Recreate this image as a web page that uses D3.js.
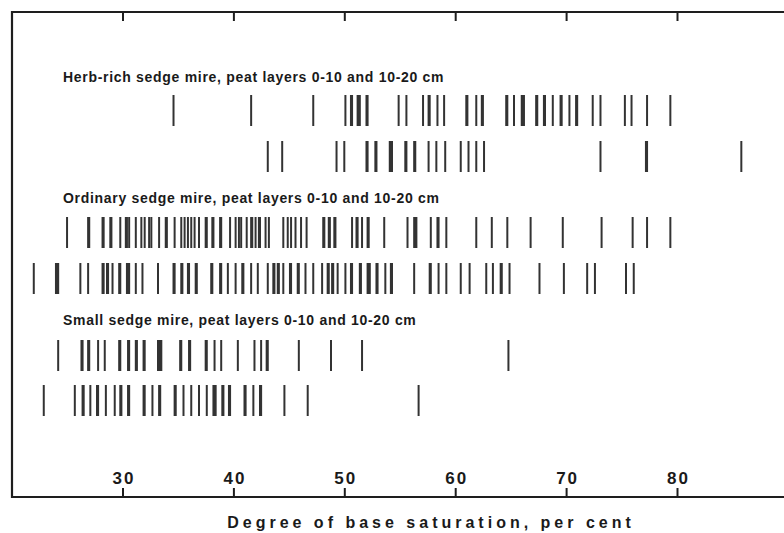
<!DOCTYPE html>
<html>
<head>
<meta charset="utf-8">
<script src="https://cdn.jsdelivr.net/npm/d3@7"></script>
<style>
  html, body { margin: 0; padding: 0; background: #fff; }
  svg { display: block; }
  text { font-family: "Liberation Sans", Arial, sans-serif; font-weight: bold; fill: #1a1a1a; }
</style>
</head>
<body>
<svg id="chart" width="784" height="533"></svg>
<script>
// Degree of base saturation (per cent) of individual peat samples.
// Closely spaced values show up as heavier bars.
const herbRich0_10 = [34.6, 41.6, 47.2, 50.1, 50.6, 50.7, 51.2, 51.3, 51.4, 52.0, 52.1, 54.9, 55.6,
  57.1, 57.6, 57.7, 58.4, 59.0, 61.0, 61.1, 61.9, 62.4, 62.5, 64.6, 64.7, 65.3, 66.0, 66.1, 66.2,
  67.3, 67.4, 68.0, 68.1, 68.8, 69.5, 69.6, 70.3, 70.9, 71.0, 72.4, 73.1, 75.3, 75.9, 77.3, 79.4];
const herbRich10_20 = [43.1, 44.4, 49.3, 50.0, 52.0, 52.1, 52.8, 52.9, 54.1, 54.2, 54.3, 55.5, 55.6,
  56.3, 56.4, 57.6, 58.3, 59.1, 60.5, 61.2, 61.9, 62.6, 73.1, 77.2, 77.3, 85.8];
const ordinary0_10 = [25.0, 26.9, 27.0, 28.2, 28.3, 28.9, 29.0, 29.8, 30.3, 30.4, 30.6, 31.2, 31.7,
  32.0, 32.4, 32.6, 33.3, 33.9, 34.0, 34.7, 35.3, 35.6, 35.9, 36.2, 36.5, 36.9, 37.5, 37.6, 38.1,
  38.2, 38.8, 38.9, 39.7, 40.2, 40.5, 40.7, 41.2, 41.6, 41.7, 42.0, 42.3, 42.4, 42.9, 43.2, 44.5,
  44.9, 45.2, 45.6, 46.1, 46.6, 48.1, 48.2, 48.6, 48.7, 49.1, 49.2, 50.7, 51.1, 51.2, 51.6, 52.1,
  52.2, 53.6, 55.7, 56.3, 56.4, 56.5, 57.8, 58.4, 58.5, 59.2, 61.9, 63.3, 64.7, 66.8, 69.7, 73.2,
  76.0, 77.3, 79.4];
const ordinary10_20 = [22.0, 24.0, 24.1, 24.2, 26.2, 26.9, 28.2, 28.3, 28.6, 28.7, 29.1, 29.7, 29.8,
  30.4, 30.5, 30.6, 31.2, 31.8, 33.2, 34.6, 34.7, 35.3, 35.4, 35.9, 36.0, 36.6, 36.7, 38.0, 38.1,
  38.8, 38.9, 39.5, 40.2, 40.8, 40.9, 41.6, 42.2, 43.1, 43.6, 43.7, 44.0, 44.1, 44.5, 45.1, 45.2,
  45.8, 45.9, 46.5, 47.2, 48.0, 48.5, 48.6, 48.9, 49.0, 49.4, 50.1, 50.6, 50.7, 51.4, 51.5, 52.1,
  52.2, 52.3, 52.9, 53.0, 53.7, 54.2, 54.3, 56.3, 57.7, 57.8, 58.5, 59.2, 60.5, 61.3, 62.8, 63.4,
  64.1, 64.2, 64.9, 67.6, 69.8, 71.9, 72.6, 75.4, 76.1];
const small0_10 = [24.2, 26.3, 26.4, 26.9, 27.0, 27.8, 28.4, 29.7, 29.8, 30.5, 30.6, 31.2, 31.3,
  31.9, 32.0, 33.2, 33.3, 33.4, 33.5, 35.2, 35.3, 36.0, 36.1, 37.5, 37.6, 38.3, 38.9, 40.4, 41.9,
  42.5, 43.0, 43.1, 45.9, 48.8, 51.6, 64.8];
const small10_20 = [22.9, 25.7, 26.4, 26.5, 27.1, 27.7, 27.8, 28.5, 29.3, 29.8, 29.9, 30.5, 30.6,
  31.9, 32.0, 32.7, 33.3, 33.4, 34.7, 34.8, 35.5, 36.2, 36.9, 37.6, 38.2, 38.3, 38.4, 39.0, 39.1,
  39.6, 39.7, 41.0, 41.1, 41.8, 42.4, 42.5, 44.6, 46.7, 56.7];

const groupTitles = [
  "Herb-rich sedge mire, peat layers 0-10 and 10-20 cm",
  "Ordinary sedge mire, peat layers 0-10 and 10-20 cm",
  "Small sedge mire, peat layers 0-10 and 10-20 cm"
];
const rowSeries = [herbRich0_10, herbRich10_20, ordinary0_10, ordinary10_20, small0_10, small10_20];
const tickValues = [30, 40, 50, 60, 70, 80];
const axisTitle = "Degree of base saturation, per cent";

const svg = d3.select("#chart");
const frame = { left: 12, top: 12, right: 792, bottom: 497 };

const x = d3.scaleLinear().domain([30, 80]).range([122.5, 677]);

// vertical band of each row of strokes
const rowTop = [95, 141, 217, 263, 340, 385];
const rowHeight = 31;

// frame
svg.append("path")
  .attr("d", `M${frame.right},${frame.top}H${frame.left}V${frame.bottom}H${frame.right}`)
  .attr("fill", "none")
  .attr("stroke", "#1e1e1e")
  .attr("stroke-width", 2.2);

// ticks hanging from the top edge
const topAxis = svg.append("g")
  .attr("transform", `translate(0,${frame.top})`)
  .call(d3.axisBottom(x).tickValues(tickValues).tickSize(9).tickFormat(""));
topAxis.select(".domain").remove();
topAxis.selectAll(".tick line").attr("stroke", "#1e1e1e").attr("stroke-width", 2);

// ticks rising from the bottom edge, labels above them
const bottomAxis = svg.append("g")
  .attr("transform", `translate(0,${frame.bottom})`)
  .call(d3.axisTop(x).tickValues(tickValues).tickSize(9).tickPadding(4).tickFormat(d3.format("d")));
bottomAxis.select(".domain").remove();
bottomAxis.selectAll(".tick line").attr("stroke", "#1e1e1e").attr("stroke-width", 2);
bottomAxis.selectAll(".tick text")
  .attr("font-size", 17)
  .attr("font-family", "Liberation Sans, Arial, sans-serif")
  .attr("font-weight", "bold")
  .attr("fill", "#1a1a1a")
  .attr("letter-spacing", 2)
  .attr("dx", 1);

// strokes
rowSeries.forEach((values, i) => {
  svg.append("g")
    .selectAll("line")
    .data(values)
    .join("line")
    .attr("x1", d => x(d))
    .attr("x2", d => x(d))
    .attr("y1", rowTop[i])
    .attr("y2", rowTop[i] + rowHeight)
    .attr("stroke", "#333")
    .attr("stroke-width", 2);
});

// group titles
const titleBaselines = [82, 203, 325];
groupTitles.forEach((t, i) => {
  svg.append("text")
    .attr("x", 63)
    .attr("y", titleBaselines[i])
    .attr("font-size", 14)
    .attr("letter-spacing", 0.7)
    .text(t);
});

// axis title
svg.append("text")
  .attr("x", 431)
  .attr("y", 528)
  .attr("text-anchor", "middle")
  .attr("font-size", 16)
  .attr("letter-spacing", 4)
  .text(axisTitle);
</script>
</body>
</html>
